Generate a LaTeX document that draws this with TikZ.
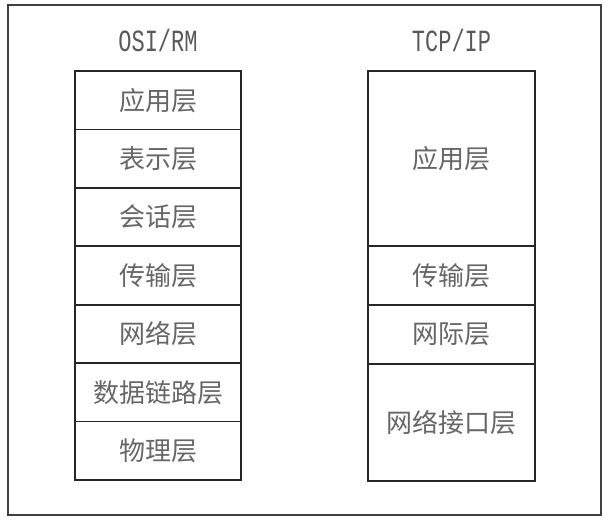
\documentclass[tikz,border=0pt]{standalone}
\usepackage{fontspec}
\usepackage{graphicx}
\setmonofont{Liberation Mono}
\newfontfamily\cjk{Noto Sans CJK SC}
\usetikzlibrary{positioning}

\begin{document}
\begin{tikzpicture}[x=1pt, y=-1pt]
\tikzset{layerbox/.style={draw=black!85, line width=1.8pt, fill=white, align=center, text=black!60, font=\cjk\fontsize{26}{30}\selectfont, outer sep=0pt, inner sep=0pt}, osilayer/.style={layerbox, minimum width=166pt, minimum height=58.43pt}, tcplayer/.style={layerbox, minimum width=167pt}, titlelabel/.style={text=black!65, font=\ttfamily\fontsize{22}{26}\selectfont}}
\useasboundingbox (0,0) rectangle (609,521);
\node[draw=black!75, line width=2pt, minimum width=593pt, minimum height=510pt, outer sep=0pt] (frame) at (304.5,260) {};
% OSI/RM reference model
\node[titlelabel] (osititle) at (158,40) {\scalebox{1}[1.4]{OSI/RM}};
\node[osilayer, anchor=north] (app) at (158,71) {应用层};
\node[osilayer, below=0pt of app] (pres) {表示层};
\node[osilayer, below=0pt of pres] (sess) {会话层};
\node[osilayer, below=0pt of sess] (trans) {传输层};
\node[osilayer, below=0pt of trans] (net) {网络层};
\node[osilayer, below=0pt of net] (link) {数据链路层};
\node[osilayer, below=0pt of link] (phys) {物理层};
% TCP/IP model
\node[titlelabel] (tcptitle) at (451.5,40) {\scalebox{1}[1.4]{TCP/IP}};
\node[tcplayer, minimum height=175pt, anchor=north] (tcpapp) at (451.5,71) {应用层};
\node[tcplayer, minimum height=59pt, below=0pt of tcpapp] (tcptrans) {传输层};
\node[tcplayer, minimum height=59pt, below=0pt of tcptrans] (tcpnet) {网际层};
\node[tcplayer, minimum height=117pt, below=0pt of tcpnet] (tcpif) {网络接口层};
\end{tikzpicture}
\end{document}
